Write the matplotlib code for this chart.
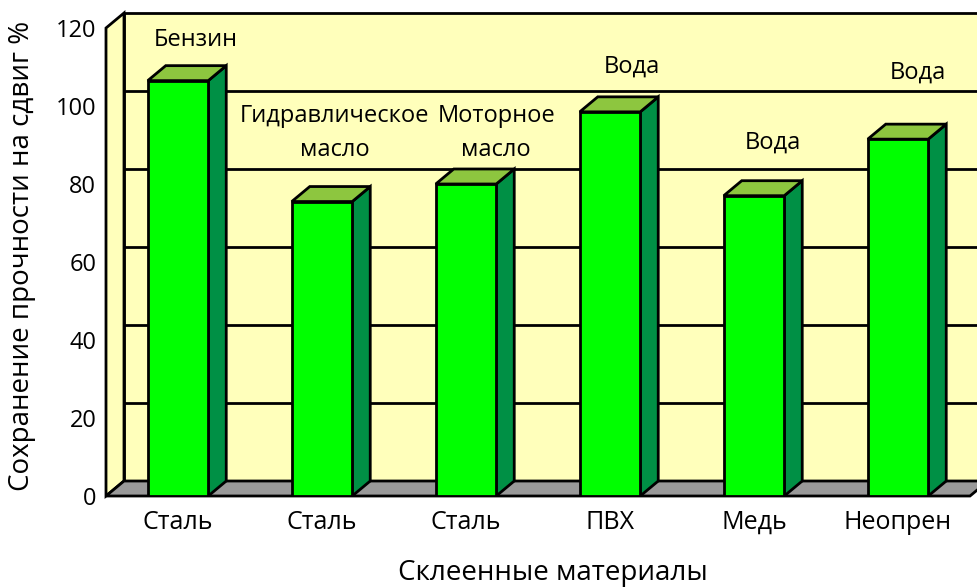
import matplotlib.pyplot as plt
from matplotlib.patches import Polygon

plt.rcParams['font.family'] = ['Open Sans', 'DejaVu Sans']

materials = ['Сталь', 'Сталь', 'Сталь', 'ПВХ', 'Медь', 'Неопрен']
retention = [106.5, 75.5, 80, 98.5, 77, 91.5]
media = ['Бензин', 'Гидравлическое\nмасло', 'Моторное\nмасло', 'Вода', 'Вода', 'Вода']
media_pos = [(0.12, 117), (1.09, 93), (2.21, 93), (3.15, 110), (4.13, 90.5), (5.14, 108.5)]
y_ticks = [0, 20, 40, 60, 80, 100, 120]

W, H = 977, 587
fig = plt.figure(figsize=(W / 100, H / 100), dpi=100)
ax = fig.add_axes([106 / W, 91 / H, 864 / W, 468 / H])
ax.set_xlim(-0.5, 5.5)
ax.set_ylim(0, 120)

# 3d depth in data units (18 px right, 15 px up)
dx = 18 / 144
dy = 15 / 3.9
x0, x1 = -0.5, 5.5
wall = '#FFFFBB'

ax.add_patch(Polygon([(x0 + dx, dy), (x1 + dx, dy), (x1 + dx, 120 + dy), (x0 + dx, 120 + dy)],
                     closed=True, facecolor=wall, edgecolor='black', lw=2, clip_on=False, zorder=1))
ax.add_patch(Polygon([(x0, 0), (x0, 120), (x0 + dx, 120 + dy), (x0 + dx, dy)],
                     closed=True, facecolor=wall, edgecolor='black', lw=2, clip_on=False, zorder=1))
for v in y_ticks[1:-1]:
    ax.plot([x0 + dx, x1 + dx], [v + dy, v + dy], color='black', lw=2, clip_on=False, zorder=1.5)
ax.add_patch(Polygon([(x0, 0), (x1, 0), (x1 + dx, dy), (x0 + dx, dy)],
                     closed=True, facecolor='#999999', edgecolor='black', lw=2, clip_on=False, zorder=1.6))

w = 0.42
xs = range(len(materials))
ax.bar(xs, retention, width=w, color='#00FF00', edgecolor='black', lw=2, zorder=3)
for x, v in zip(xs, retention):
    r = x + w / 2
    l = x - w / 2
    ax.add_patch(Polygon([(r, 0), (r + dx, dy), (r + dx, v + dy), (r, v)],
                         closed=True, facecolor='#009045', edgecolor='black', lw=2, zorder=2.5))
    ax.add_patch(Polygon([(l, v), (l + dx, v + dy), (r + dx, v + dy), (r, v)],
                         closed=True, facecolor='#8DC63F', edgecolor='black', lw=2, zorder=2.5,
                         clip_on=False))

for txt, (tx, ty) in zip(media, media_pos):
    ax.text(tx, ty, txt, ha='center', va='center', fontsize=17, linespacing=1.55, zorder=4)

ax.set_xticks(list(xs), materials)
ax.set_yticks(y_ticks)
ax.tick_params(length=0, labelsize=17)
ax.tick_params(axis='x', labelsize=18, pad=10)
ax.tick_params(axis='y', pad=7)
for s in ax.spines.values():
    s.set_visible(False)
ax.patch.set_visible(False)

fig.text(22 / W, 1 - 256 / H, 'Сохранение прочности на сдвиг %', rotation=90,
         ha='center', va='center', fontsize=20)
fig.text(553 / W, 1 - 573 / H, 'Склеенные материалы', ha='center', va='center', fontsize=20)

fig.savefig('out.png', dpi=100)
